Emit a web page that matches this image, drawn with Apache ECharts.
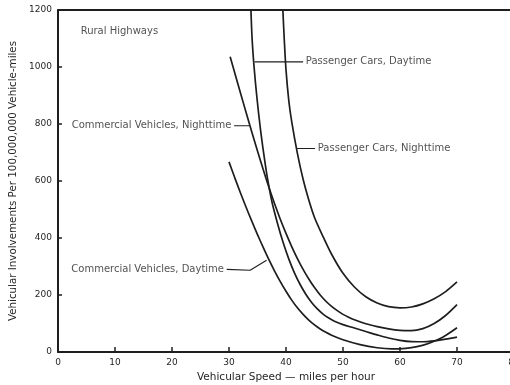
<!DOCTYPE html>
<html>
<head>
<meta charset="utf-8">
<script src="https://cdn.jsdelivr.net/npm/echarts@6/dist/echarts.min.js"></script>
<style>
html,body{margin:0;padding:0;background:#fff;}
#chart{width:510px;height:385px;}
</style>
</head>
<body>
<div id="chart"></div>
<script>
// Tick labels
var xTicks = [0, 10, 20, 30, 40, 50, 60, 70, 80];
var yTicks = [0, 200, 400, 600, 800, 1000, 1200];

// Curves: [speed (mph), involvements per 100,000,000 vehicle-miles]
var passengerCarsNighttime = [[39.45,1200],[39.7,1095],[40,990],[40.5,880],[41,808],[42,697],[43,606],[44,533],[45,472],[46.5,405],[48,343],[50,276],[52,228],[54,194],[56,172],[58,159],[60,155],[62,158],[64,169],[66,187],[68,212],[70,246]];
var passengerCarsDaytime = [[33.85,1200],[34.05,1100],[34.4,1000],[34.9,892],[35.5,785],[36.1,695],[36.7,615],[37.5,530],[38.5,452],[39.5,384],[40.5,326],[41.5,277],[42.5,236],[43.5,202],[44.5,174],[45.5,151],[46.5,133],[47.5,119],[48.5,108],[50,96],[52,84],[54,72],[56,60],[58,49],[60,41],[62,36.5],[64,36],[66,39],[68,45],[70,52]];
var commercialNighttime = [[30.2,1036],[31,980],[32,910],[33,840],[34,772],[35,705],[36,640],[37,578],[38,520],[39,466],[40,416],[41,370],[42,328],[43,290],[44,256],[45,226],[46,200],[47,178],[48,160],[49,145],[50,132],[51,122],[52,113],[54,99],[56,89],[58,81],[60,76],[62,75],[64,82],[66,100],[68,128],[70,166]];
var commercialDaytime = [[30,667],[31,612],[32,559],[33,508],[34,459],[35,412],[36,367],[37,324],[38,284],[39,247],[40,213],[41,182],[42,155],[43,132],[44,112],[45,95],[46,81],[47,69],[48,59],[50,43],[53,26],[56,15],[58.5,11],[61,13],[63,19],[65,30],[67.5,52],[70,85]];

// Annotation texts, their anchor points and leader lines (data coordinates)
var noteTexts = ['Rural Highways', 'Commercial Vehicles, Nighttime', 'Passenger Cars, Daytime', 'Passenger Cars, Nighttime', 'Commercial Vehicles, Daytime'];
var noteAnchors = [[3.8,1126],[30.6,794],[43.3,1018],[45.4,714],[29.3,290]];
var noteSides = ['right','left','right','right','left'];
var leaders = [
  [[30.9,794],[33.6,794]],
  [[34.5,1018],[43.0,1018]],
  [[41.9,714],[45.1,714]],
  [[29.6,290],[33.7,287],[36.6,322]]
];

var FONT = 'DejaVu Sans';
var INK = '#1e1e1e';
var TXT = '#262626';

var series = [];
[passengerCarsNighttime, passengerCarsDaytime, commercialNighttime, commercialDaytime].forEach(function(d){
  series.push({
    type: 'line', data: d, smooth: 0.3, symbol: 'none', silent: true,
    lineStyle: {color: INK, width: 1.7}, clip: true, z: 3
  });
});
leaders.forEach(function(d){
  series.push({type:'line', data:d, symbol:'none', silent:true, lineStyle:{color:INK,width:1.1}, z:3});
});
series.push({
  type: 'scatter', symbolSize: 0, silent: true, z: 4,
  data: noteAnchors.map(function(p, i){
    return {value: p, label: {show: true, formatter: noteTexts[i], position: noteSides[i], distance: 1,
      fontFamily: FONT, fontSize: 10, color: TXT}};
  })
});

var chart = echarts.init(document.getElementById('chart'), null, {renderer: 'canvas'});
chart.setOption({
  backgroundColor: '#fff',
  animation: false,
  grid: {left: 58, top: 10, width: 456, height: 342, containLabel: false, outerBoundsMode: 'none'},
  xAxis: [{
    type: 'value', min: 0, max: 80, interval: 10,
    name: 'Vehicular Speed \u2014 miles per hour', nameLocation: 'middle', nameGap: 20,
    nameTextStyle: {fontFamily: FONT, fontSize: 10.5, color: TXT},
    axisLine: {show: true, lineStyle: {color: INK, width: 2}},
    axisTick: {show: true, inside: true, length: 5, lineStyle: {color: INK, width: 1.5}},
    axisLabel: {fontFamily: FONT, fontSize: 9, color: TXT, margin: 6, hideOverlap: false,
      formatter: function(v){ return xTicks.indexOf(v) >= 0 ? String(v) : ''; }},
    splitLine: {show: false}
  }, {
    type: 'value', min: 0, max: 80, position: 'top',
    axisLine: {show: true, lineStyle: {color: INK, width: 2}},
    axisTick: {show: false}, axisLabel: {show: false}, splitLine: {show: false}
  }],
  yAxis: {
    type: 'value', min: 0, max: 1200, interval: 200,
    name: 'Vehicular Involvements Per 100,000,000 Vehicle-miles', nameLocation: 'middle', nameGap: 24,
    nameTextStyle: {fontFamily: FONT, fontSize: 10.3, color: TXT},
    axisLine: {show: true, lineStyle: {color: INK, width: 2}},
    axisTick: {show: true, inside: true, length: 4, lineStyle: {color: INK, width: 1.5}},
    axisLabel: {fontFamily: FONT, fontSize: 9, color: TXT, margin: 6,
      formatter: function(v){ return yTicks.indexOf(v) >= 0 ? String(v) : ''; }},
    splitLine: {show: false}
  },
  series: series
});
</script>
</body>
</html>
